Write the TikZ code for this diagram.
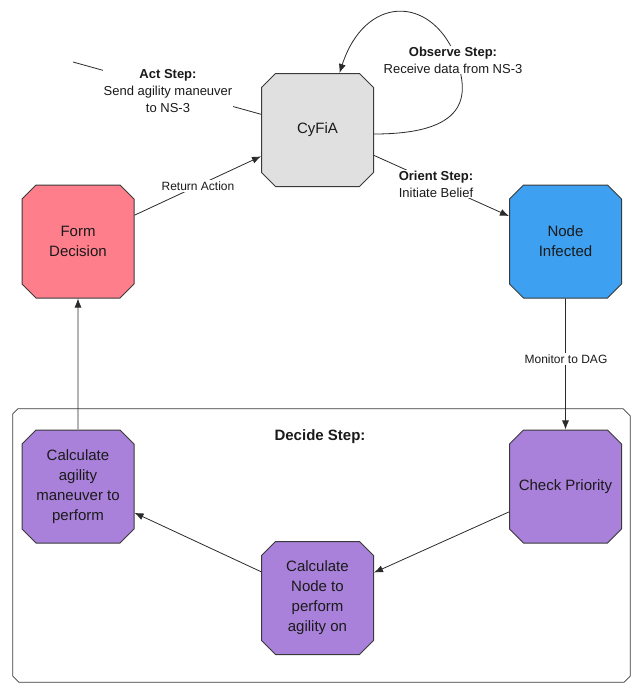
\documentclass[tikz,border=0pt]{standalone}
\usepackage{fontspec}
\setmainfont{Liberation Sans}
\usetikzlibrary{shapes.misc,arrows.meta}
\definecolor{cgray}{HTML}{E0E0E0}
\definecolor{cpink}{HTML}{FF7E8C}
\definecolor{cblue}{HTML}{3DA0F0}
\definecolor{cpurple}{HTML}{A980DA}
\definecolor{boxline}{HTML}{3A3A3A}
\definecolor{lineclr}{HTML}{2A2A2A}
\definecolor{txt}{HTML}{1A1A1A}
\begin{document}
\begin{tikzpicture}[x=1pt,y=-1pt,
  box/.style={chamfered rectangle, chamfered rectangle xsep=7pt, chamfered rectangle ysep=7pt,
    draw=boxline, line width=1pt, minimum width=112pt, minimum height=113pt, inner sep=1pt,
    align=center, text=txt, font=\fontsize{15}{20}\selectfont},
  conn/.style={draw=lineclr, line width=0.8pt},
  arr/.style={conn, -{Latex[length=9pt,width=7pt]}},
  steplabel/.style={fill=white, inner sep=1pt, align=center, text=txt, font=\fontsize{13}{17}\selectfont},
  edgelabel/.style={fill=white, inner sep=2pt, text=txt, font=\fontsize{12}{15}\selectfont}
]
\useasboundingbox (0,0) rectangle (634,683);

% Decide group
\node[minimum width=617pt, minimum height=273pt, inner sep=0pt] (decide) at (321.5,545.5) {};
\draw[draw=boxline, line width=0.8pt]
  ([xshift=5pt]decide.north west) -- ([xshift=-7pt]decide.north east)
  -- ([yshift=-7pt]decide.north east) -- ([yshift=6pt]decide.south east)
  -- ([xshift=-6pt]decide.south east) -- ([xshift=6pt]decide.south west)
  -- ([yshift=6pt]decide.south west) -- ([yshift=-5pt]decide.north west) -- cycle;
\node[text=txt, font=\fontsize{15}{18}\selectfont\bfseries] (decidelbl) at (320,437) {Decide Step:};

% Nodes
\node[box, fill=cgray] (cyfia) at (317.5,130) {CyFiA};
\node[box, fill=cpink] (form) at (78,241.5) {Form\\Decision};
\node[box, fill=cblue] (infected) at (565.5,241.5) {Node\\Infected};
\node[box, fill=cpurple] (check) at (565.5,486.5) {Check Priority};
\node[box, fill=cpurple] (calcnode) at (317.5,598) {Calculate\\Node to\\perform\\agility on};
\node[box, fill=cpurple] (calcagil) at (78,486.5) {Calculate\\agility\\maneuver to\\perform};

% free ends
\coordinate (actend) at (73,62);

% Connectors
\draw[conn] (cyfia) -- (actend);
\draw[arr] ([yshift=-4pt]cyfia.east) .. controls (475,134) and (468,90) .. (455,55)
   .. controls (430,-5) and (365,-5) .. ([xshift=22pt]cyfia.north);
\draw[arr] (cyfia) -- (infected);
\draw[arr] (form) -- (cyfia);
\draw[arr] (infected) -- (check);
\draw[arr] (check) -- (calcnode);
\draw[arr] (calcnode) -- (calcagil);
\draw[arr] (calcagil) -- (form);

% Labels
\node[steplabel] (actlbl) at (168,91) {\textbf{Act Step:}\\Send agility maneuver\\to NS-3};
\node[steplabel] (obslbl) at (453,60) {\textbf{Observe Step:}\\Receive data from NS-3};
\node[steplabel] (orilbl) at (436,184) {\textbf{Orient Step:}\\Initiate Belief};
\node[edgelabel] (retlbl) at (198,186) {Return Action};
\node[edgelabel] (monlbl) at (566,359) {Monitor to DAG};
\end{tikzpicture}
\end{document}
